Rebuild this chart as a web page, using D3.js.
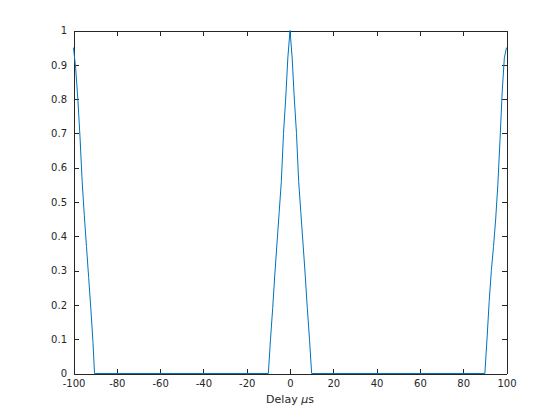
<!DOCTYPE html>
<html>
<head>
<meta charset="utf-8">
<script src="https://cdn.jsdelivr.net/npm/d3@7"></script>
<style>
  html, body { margin: 0; padding: 0; background: #ffffff; }
  svg { display: block; }
  text { font-family: "DejaVu Sans", sans-serif; fill: #262626; }
</style>
</head>
<body>
<svg id="chart" width="560" height="420"></svg>
<script>
// ---- data ----
const delays = [-100, -99, -98, -97, -96, -95, -94, -93, -92, -91, -90.3,
                -10, -9, -8, -7, -6, -5, -4, -3, -2, -1, 0,
                1, 2, 3, 4, 5, 6, 7, 8, 9, 10,
                90, 91, 92, 93, 94, 95, 96, 97, 98, 99, 100];
const corr = [0.95, 0.89, 0.80, 0.69, 0.56, 0.46, 0.37, 0.28, 0.19, 0.09, 0,
              0, 0.10, 0.19, 0.29, 0.38, 0.47, 0.56, 0.70, 0.80, 0.92, 1,
              0.92, 0.80, 0.70, 0.56, 0.47, 0.38, 0.29, 0.19, 0.10, 0,
              0, 0.10, 0.21, 0.30, 0.37, 0.45, 0.55, 0.68, 0.82, 0.92, 0.95];
const xTicks = [-100, -80, -60, -40, -20, 0, 20, 40, 60, 80, 100];
const xTickLabels = ["-100", "-80", "-60", "-40", "-20", "0", "20", "40", "60", "80", "100"];
const yTicks = [0, 0.1, 0.2, 0.3, 0.4, 0.5, 0.6, 0.7, 0.8, 0.9, 1];
const yTickLabels = ["0", "0.1", "0.2", "0.3", "0.4", "0.5", "0.6", "0.7", "0.8", "0.9", "1"];

// ---- layout ----
const L = 73.5, R = 506.5, T = 30.5, B = 373.5;
const axisColor = "#262626";
const lineColor = "#0072BD";

const svg = d3.select("#chart");
const x = d3.scaleLinear().domain([-100, 100]).range([L, R]);
const y = d3.scaleLinear().domain([0, 1]).range([B, T]);

const tickLen = 5;

function style(g) {
  g.select(".domain").attr("stroke", axisColor).attr("stroke-width", 1).attr("shape-rendering", "crispEdges");
  g.selectAll(".tick line").attr("stroke", axisColor).attr("stroke-width", 1).attr("shape-rendering", "crispEdges");
  g.selectAll(".tick text").attr("fill", axisColor).style("font-size", "10px").style("font-family", "DejaVu Sans, sans-serif");
}

// bottom
svg.append("g").attr("transform", `translate(0,${B})`)
  .call(d3.axisBottom(x).tickValues(xTicks).tickSizeInner(-tickLen).tickSizeOuter(0).tickPadding(6.5)
    .tickFormat((d, i) => xTickLabels[i]))
  .call(style);
// top
svg.append("g").attr("transform", `translate(0,${T})`)
  .call(d3.axisTop(x).tickValues(xTicks).tickSizeInner(-tickLen).tickSizeOuter(0).tickFormat(""))
  .call(style);
// left
svg.append("g").attr("transform", `translate(${L},0)`)
  .call(d3.axisLeft(y).tickValues(yTicks).tickSizeInner(-tickLen).tickSizeOuter(0).tickPadding(6.5)
    .tickFormat((d, i) => yTickLabels[i]))
  .call(style);
// right
svg.append("g").attr("transform", `translate(${R},0)`)
  .call(d3.axisRight(y).tickValues(yTicks).tickSizeInner(-tickLen).tickSizeOuter(0).tickFormat(""))
  .call(style);

// data line
const line = d3.line().x((d, i) => x(delays[i])).y(d => y(d));
svg.append("path")
  .datum(corr)
  .attr("fill", "none")
  .attr("stroke", lineColor)
  .attr("stroke-width", 1)
  .attr("d", line);

// x label
const lab = svg.append("text")
  .attr("x", (L + R) / 2)
  .attr("y", 402.5)
  .attr("text-anchor", "middle")
  .style("font-size", "11px");
lab.append("tspan").text("Delay ");
lab.append("tspan").style("font-style", "italic").text("μ");
lab.append("tspan").text("s");
</script>
</body>
</html>
